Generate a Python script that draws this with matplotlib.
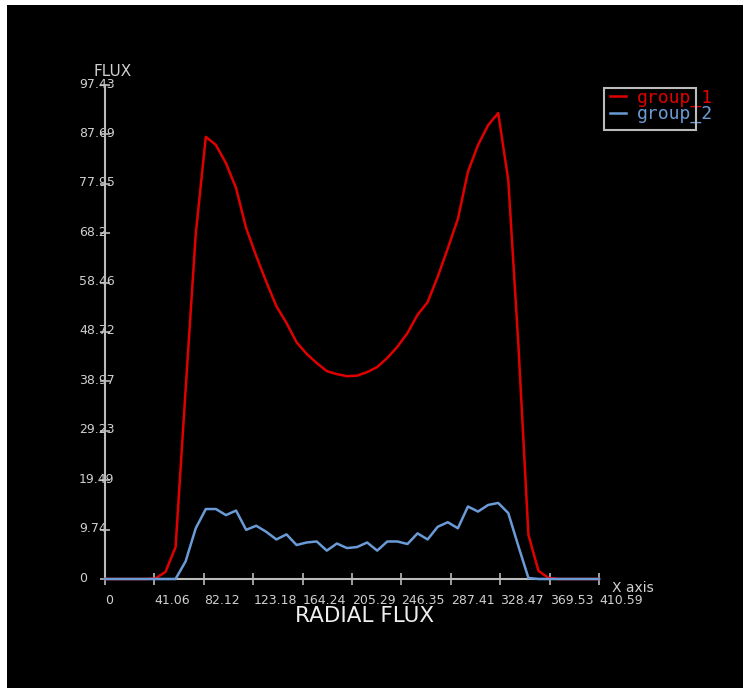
import matplotlib
matplotlib.use("Agg")
import matplotlib.pyplot as plt
import matplotlib.transforms as mtrans
from matplotlib.patches import Rectangle

# radial positions (50 nodes from 0 to 410.59)
x_pos = [0.00, 8.38, 16.76, 25.14, 33.52, 41.90, 50.28, 58.66, 67.04, 75.41,
         83.79, 92.17, 100.55, 108.93, 117.31, 125.69, 134.07, 142.45, 150.83, 159.21,
         167.59, 175.97, 184.35, 192.73, 201.11, 209.48, 217.86, 226.24, 234.62, 243.00,
         251.38, 259.76, 268.14, 276.52, 284.90, 293.28, 301.66, 310.04, 318.42, 326.80,
         335.18, 343.56, 351.93, 360.31, 368.69, 377.07, 385.45, 393.83, 402.21, 410.59]

group_1 = [0, 0, 0, 0, 0, 0.1, 1.4, 6.3, 37.5, 68.0,
           87.2, 85.6, 82.0, 77.1, 69.2, 63.7, 58.6, 53.8, 50.5, 46.7,
           44.4, 42.6, 41.0, 40.4, 40.0, 40.1, 40.8, 41.8, 43.6, 45.8,
           48.5, 52.1, 54.6, 59.6, 65.2, 71.0, 80.3, 85.6, 89.5, 91.9,
           78.7, 46.3, 8.7, 1.6, 0.2, 0, 0, 0, 0, 0]

group_2 = [0, 0, 0, 0, 0, 0, 0, 0, 3.5, 10.0,
           13.8, 13.8, 12.6, 13.5, 9.7, 10.5, 9.3, 7.8, 8.8, 6.7,
           7.2, 7.4, 5.6, 7.0, 6.1, 6.3, 7.2, 5.6, 7.4, 7.4,
           6.9, 9.0, 7.8, 10.3, 11.2, 10.0, 14.3, 13.3, 14.6, 15.0,
           13.0, 6.5, 0.2, 0, 0, 0, 0, 0, 0, 0]

x_ticks = [0, 41.06, 82.12, 123.18, 164.24, 205.29, 246.35, 287.41, 328.47, 369.53, 410.59]
x_tick_labels = ["0", "41.06", "82.12", "123.18", "164.24", "205.29",
                 "246.35", "287.41", "328.47", "369.53", "410.59"]
y_ticks = [0, 9.74, 19.49, 29.23, 38.97, 48.72, 58.46, 68.2, 77.95, 87.69, 97.43]
y_tick_labels = ["0", "9.74", "19.49", "29.23", "38.97", "48.72",
                 "58.46", "68.2", "77.95", "87.69", "97.43"]

W, H = 750, 693
red = "#e00000"
blue = "#6b9bd6"
grey = "#bbbbbb"
txt = "#d0d0d0"

fig = plt.figure(figsize=(W / 100, H / 100), dpi=100, facecolor="white")
fig.add_artist(Rectangle((7 / W, 5 / H), 736 / W, 683 / H, transform=fig.transFigure,
                         facecolor="black", edgecolor="none", zorder=-5))

ax = fig.add_axes([105 / W, 114 / H, 494 / W, 494 / H])
ax.set_facecolor("black")

ax.plot(x_pos, group_1, color=red, lw=1.8, label="group_1", zorder=3, clip_on=False)
ax.plot(x_pos, group_2, color=blue, lw=1.8, label="group_2", zorder=4, clip_on=False)

ax.set_xlim(0, 410.59)
ax.set_ylim(0, 97.43)
ax.set_xticks(x_ticks)
ax.set_xticklabels(x_tick_labels, ha="left")
ax.set_yticks(y_ticks)
ax.set_yticklabels(y_tick_labels, ha="left")

for s in ["top", "right"]:
    ax.spines[s].set_visible(False)
for s in ["left", "bottom"]:
    ax.spines[s].set_color(grey)
    ax.spines[s].set_linewidth(1.5)

ax.tick_params(axis="x", direction="inout", length=9, width=1.2, color=grey,
               labelcolor=txt, labelsize=9, pad=6.5)
ax.tick_params(axis="y", direction="inout", length=7, width=1.2, color=grey,
               labelcolor=txt, labelsize=9, pad=15.2)

# y labels sit a little above their ticks
shift = mtrans.ScaledTranslation(0, 0.025, fig.dpi_scale_trans)
for lbl in ax.get_yticklabels():
    lbl.set_transform(lbl.get_transform() + shift)

fig.text(113 / W, 1 - 71 / H, "FLUX", ha="center", va="center", color=txt, fontsize=11)
fig.text(612 / W, 1 - 588 / H, "X axis", ha="left", va="center", color=txt, fontsize=10)
fig.text(365 / W, 1 - 616 / H, "RADIAL FLUX", ha="center", va="center",
         color="#eeeeee", fontsize=15.5)

# legend: text runs past its box like in the original
ax.legend(loc="upper left", bbox_to_anchor=(605 / W, 1 - 83 / H), bbox_transform=fig.transFigure,
          frameon=False, prop={"family": "DejaVu Sans Mono", "size": 13}, labelcolor="linecolor",
          handlelength=0.85, handletextpad=0.62, borderpad=0.3, labelspacing=-0.1, borderaxespad=0)
fig.add_artist(Rectangle((604 / W, 1 - 130 / H), 92 / W, 42 / H, transform=fig.transFigure,
                         fill=False, edgecolor=grey, lw=1.5, zorder=5))

fig.savefig("out.png", dpi=100, facecolor=fig.get_facecolor())
